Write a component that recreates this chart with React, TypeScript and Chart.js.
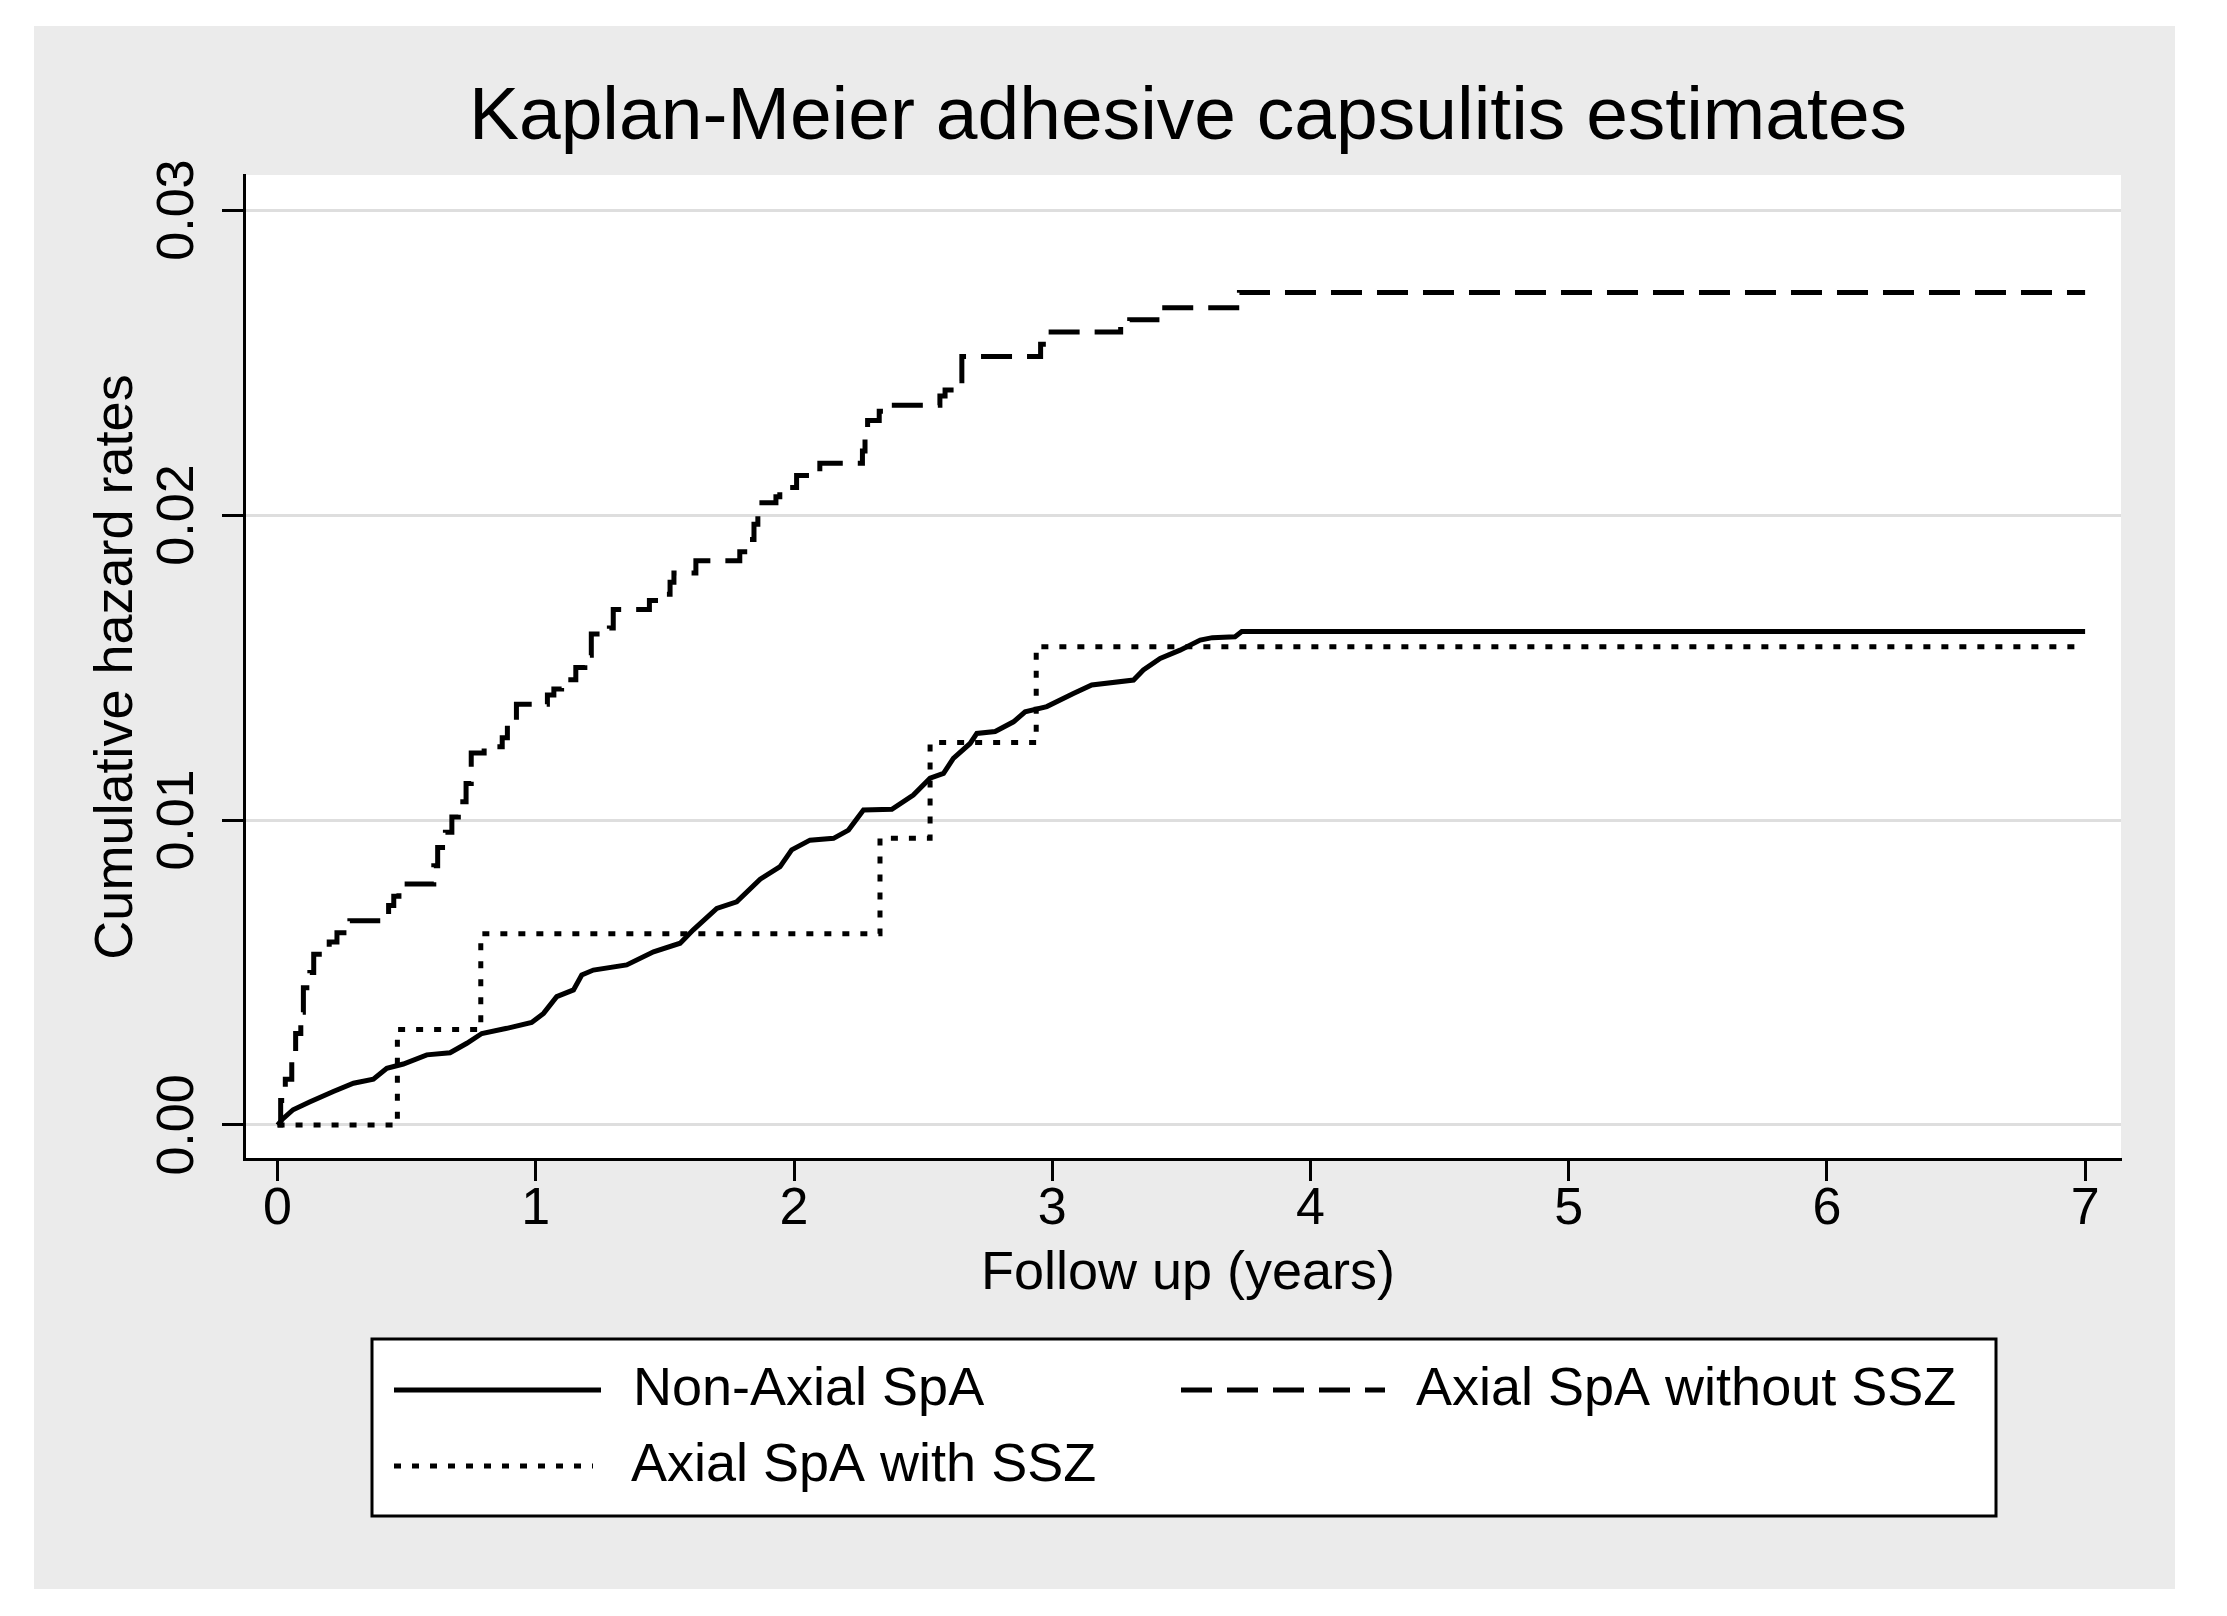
import React, { useEffect, useRef } from "react";
import { Chart, registerables } from "chart.js";

Chart.register(...registerables);

const chartTitle = "Kaplan-Meier adhesive capsulitis estimates";
const xAxisTitle = "Follow up (years)";
const yAxisTitle = "Cumulative hazard rates";

const xTicks = [0, 1, 2, 3, 4, 5, 6, 7];
const xTickLabels = ["0", "1", "2", "3", "4", "5", "6", "7"];
const yTicks = [0, 0.01, 0.02, 0.03];
const yTickLabels = ["0.00", "0.01", "0.02", "0.03"];

const seriesLabels = ["Non-Axial SpA", "Axial SpA without SSZ", "Axial SpA with SSZ"];

// Non-Axial SpA (solid)
const nonAxialTimes = [
  0, 0.02, 0.06, 0.126, 0.216, 0.294, 0.371, 0.423, 0.487, 0.578, 0.668, 0.733, 0.791, 0.888,
  0.984, 1.03, 1.081, 1.146, 1.178, 1.223, 1.352, 1.456, 1.559, 1.61, 1.701, 1.778, 1.869, 1.946,
  1.991, 2.062, 2.153, 2.211, 2.269, 2.379, 2.462, 2.527, 2.579, 2.617, 2.682, 2.708, 2.779, 2.85,
  2.895, 2.979, 3.082, 3.153, 3.315, 3.353, 3.418, 3.495, 3.573, 3.62, 3.708, 3.734, 7,
];
const nonAxialValues = [
  0, 0.0002, 0.0005, 0.00076, 0.0011, 0.00137, 0.0015, 0.00186, 0.002, 0.0023, 0.00237, 0.00268,
  0.003, 0.00317, 0.00336, 0.00366, 0.00421, 0.00443, 0.00492, 0.00508, 0.00525, 0.00568, 0.00596,
  0.0064, 0.0071, 0.00732, 0.00806, 0.00847, 0.00902, 0.00934, 0.0094, 0.00967, 0.01033, 0.01035,
  0.01082, 0.01137, 0.01153, 0.01202, 0.01251, 0.01284, 0.0129, 0.01322, 0.01355, 0.01372, 0.01415,
  0.01443, 0.01459, 0.01492, 0.0153, 0.01557, 0.0159, 0.01598, 0.01601, 0.01618, 0.01618,
];

// Axial SpA without SSZ (dashed, step function)
const axialNoSszTimes = [
  0, 0.012, 0.03, 0.055, 0.07, 0.09, 0.1, 0.125, 0.14, 0.2, 0.23, 0.28, 0.43, 0.45, 0.47, 0.605,
  0.62, 0.65, 0.675, 0.7, 0.73, 0.75, 0.8, 0.87, 0.89, 0.925, 1.045, 1.07, 1.1, 1.155, 1.19, 1.215,
  1.285, 1.3, 1.44, 1.49, 1.52, 1.535, 1.62, 1.79, 1.825, 1.845, 1.86, 1.93, 1.945, 2.01, 2.09, 2.1,
  2.265, 2.275, 2.285, 2.33, 2.345, 2.565, 2.585, 2.63, 2.65, 2.955, 2.985, 3.265, 3.3, 3.42, 3.725,
  7,
];
const axialNoSszValues = [
  0, 0.0008, 0.0015, 0.0022, 0.003, 0.0037, 0.0045, 0.005, 0.0056, 0.006, 0.0063, 0.0067, 0.0072,
  0.0075, 0.0079, 0.0085, 0.0091, 0.0096, 0.0101, 0.0106, 0.0112, 0.0122, 0.0124, 0.0127, 0.0131,
  0.0138, 0.0141, 0.0143, 0.0146, 0.015, 0.0154, 0.0161, 0.0163, 0.0169, 0.0172, 0.0174, 0.0178,
  0.0181, 0.0185, 0.0188, 0.0192, 0.0197, 0.0204, 0.0206, 0.0209, 0.0213, 0.0214, 0.0217, 0.0221,
  0.0226, 0.0231, 0.0234, 0.0236, 0.0239, 0.0241, 0.0244, 0.0252, 0.0256, 0.026, 0.0263, 0.0264,
  0.0268, 0.0273, 0.0273,
];

// Axial SpA with SSZ (dotted, step function)
const axialSszTimes = [0, 0.464, 0.787, 2.333, 2.527, 2.938, 7];
const axialSszValues = [0, 0.00313, 0.00627, 0.0094, 0.01254, 0.01568, 0.01568];

const FONT = '"Liberation Sans", Arial, sans-serif';

const toPoints = (xs: number[], ys: number[]) => xs.map((x, i) => ({ x, y: ys[i] }));

const decorPlugin = {
  id: "decor",
  beforeDraw(chart: any) {
    const { ctx, chartArea } = chart;
    ctx.save();
    ctx.fillStyle = "#ffffff";
    ctx.fillRect(0, 0, chart.width, chart.height);
    ctx.fillStyle = "#ebebeb";
    ctx.fillRect(34, 26, 2175 - 34, 1589 - 26);
    ctx.fillStyle = "#ffffff";
    ctx.fillRect(chartArea.left, chartArea.top, chartArea.right - chartArea.left, chartArea.bottom - chartArea.top);
    ctx.restore();
  },
  afterDraw(chart: any) {
    const { ctx, chartArea } = chart;
    const xs = chart.scales.x;
    const ys = chart.scales.y;
    const cx = 1188;
    ctx.save();
    ctx.fillStyle = "#000";
    ctx.textAlign = "center";
    ctx.textBaseline = "middle";

    ctx.font = `75px ${FONT}`;
    ctx.fillText(chartTitle, cx, 118);

    ctx.font = `52px ${FONT}`;
    xTicks.forEach((v, i) => {
      ctx.fillText(xTickLabels[i], xs.getPixelForValue(v), 1210);
    });
    yTicks.forEach((v, i) => {
      ctx.save();
      ctx.translate(179, ys.getPixelForValue(v));
      ctx.rotate(-Math.PI / 2);
      ctx.fillText(yTickLabels[i], 0, 0);
      ctx.restore();
    });

    ctx.font = `54px ${FONT}`;
    ctx.fillText(xAxisTitle, cx, 1274);
    ctx.save();
    ctx.translate(117, (chartArea.top + chartArea.bottom) / 2);
    ctx.rotate(-Math.PI / 2);
    ctx.fillText(yAxisTitle, 0, 0);
    ctx.restore();

    // legend
    const lx0 = 372, lx1 = 1996, ly0 = 1339, ly1 = 1516;
    ctx.fillStyle = "#ffffff";
    ctx.fillRect(lx0, ly0, lx1 - lx0, ly1 - ly0);
    ctx.strokeStyle = "#000";
    ctx.lineWidth = 3;
    ctx.strokeRect(lx0, ly0, lx1 - lx0, ly1 - ly0);

    const ds = chart.data.datasets;
    const entries = [
      { d: ds[0], x0: 394, x1: 601, tx: 633, y: 1390 },
      { d: ds[1], x0: 1181, x1: 1385, tx: 1416, y: 1390 },
      { d: ds[2], x0: 394, x1: 593, tx: 631, y: 1466 },
    ];
    entries.forEach((e) => {
      ctx.save();
      ctx.strokeStyle = "#000";
      ctx.lineWidth = e.d.borderWidth;
      ctx.setLineDash(e.d.borderDash || []);
      ctx.beginPath();
      ctx.moveTo(e.x0, e.y);
      ctx.lineTo(e.x1, e.y);
      ctx.stroke();
      ctx.restore();
      ctx.fillStyle = "#000";
      ctx.textAlign = "left";
      ctx.font = `54px ${FONT}`;
      ctx.fillText(e.d.label, e.tx, e.y);
    });
    ctx.restore();
  },
};

export default function App() {
  const ref = useRef<HTMLCanvasElement | null>(null);
  useEffect(() => {
    document.body.style.margin = "0";
    document.body.style.overflow = "hidden";
    const canvas = ref.current;
    if (!canvas) return;
    const chart = new Chart(canvas, {
      type: "line",
      data: {
        datasets: [
          {
            label: seriesLabels[0],
            data: toPoints(nonAxialTimes, nonAxialValues),
            borderColor: "#000",
            borderWidth: 5,
            pointRadius: 0,
            tension: 0,
            fill: false,
          },
          {
            label: seriesLabels[1],
            data: toPoints(axialNoSszTimes, axialNoSszValues),
            borderColor: "#000",
            borderWidth: 5,
            borderDash: [31, 15],
            pointRadius: 0,
            stepped: "before",
            fill: false,
          },
          {
            label: seriesLabels[2],
            data: toPoints(axialSszTimes, axialSszValues),
            borderColor: "#000",
            borderWidth: 5,
            borderDash: [7, 11],
            borderCapStyle: "butt",
            pointRadius: 0,
            stepped: "before",
            fill: false,
          },
        ],
      } as any,
      options: {
        animation: false,
        responsive: false,
        devicePixelRatio: 1,
        layout: { padding: { left: 0, top: 175, right: 2227 - 2121, bottom: 0 } },
        plugins: { legend: { display: false }, title: { display: false }, tooltip: { enabled: false } },
        scales: {
          x: {
            type: "linear",
            min: -0.13,
            max: 7.139,
            afterBuildTicks: (s: any) => {
              s.ticks = xTicks.map((v) => ({ value: v }));
            },
            afterFit: (s: any) => {
              s.height = 1616 - 1159;
            },
            ticks: { display: false },
            grid: {
              display: true,
              drawOnChartArea: false,
              drawTicks: true,
              tickLength: 22,
              tickColor: "#000",
              tickWidth: 3,
            },
            border: { display: true, color: "#000", width: 3 },
          },
          y: {
            type: "linear",
            min: -0.001115,
            max: 0.03115,
            afterBuildTicks: (s: any) => {
              s.ticks = yTicks.map((v) => ({ value: v }));
            },
            afterFit: (s: any) => {
              s.width = 244;
            },
            ticks: { display: false },
            grid: {
              display: true,
              drawOnChartArea: true,
              drawTicks: true,
              tickLength: 22,
              color: "#dedede",
              lineWidth: 3,
              tickColor: "#000",
              tickWidth: 3,
            },
            border: { display: true, color: "#000", width: 3 },
          },
        },
      } as any,
      plugins: [decorPlugin],
    });
    return () => chart.destroy();
  }, []);
  return (
    <div style={{ width: 2227, height: 1616 }}>
      <canvas ref={ref} width={2227} height={1616} style={{ width: 2227, height: 1616, display: "block" }} />
    </div>
  );
}
